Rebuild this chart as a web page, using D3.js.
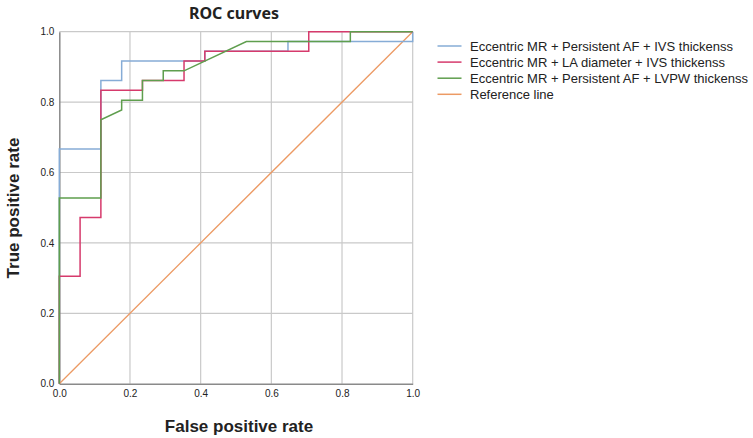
<!DOCTYPE html>
<html><head><meta charset="utf-8">
<script src="https://cdn.jsdelivr.net/npm/d3@7/dist/d3.min.js"></script>
<style>body{margin:0;background:#fff}svg{display:block}</style>
</head><body><svg id="c" width="753" height="438"></svg>
<script>
const seriesNames = ["Eccentric MR + Persistent AF + IVS thickenss","Eccentric MR + LA diameter + IVS thickenss","Eccentric MR + Persistent AF + LVPW thickenss","Reference line"];
const seriesColors = ["#86acd6","#d63a6c","#5f9e4e","#ec9a64"];
// FPR in 17ths, TPR in 36ths
const blueFpr = [0,0,2,2,3,3,7,7,11,11,17,17];
const blueTpr = [0,24,24,31,31,33,33,34,34,35,35,36];
const redFpr = [0,0,1,1,2,2,4,4,6,6,7,7,12,12,17];
const redTpr = [0,11,11,17,17,30,30,31,31,33,33,34,34,36,36];
const greenFpr = [0,0,2,2,3,3,4,4,5,5,6,9,14,14,17];
const greenTpr = [0,19,19,27,28,29,29,31,31,32,32,35,35,36,36];
const refFpr = [0,1];
const refTpr = [0,1];
const ticks = [0,0.2,0.4,0.6,0.8,1.0];

const svg = d3.select("#c");
const x = d3.scaleLinear().domain([0,1]).range([59.3,412.7]);
const y = d3.scaleLinear().domain([0,1]).range([383.7,31.7]);

// grid
svg.append("g").selectAll("line").data(ticks.slice(1)).join("line")
  .attr("x1",d=>x(d)).attr("x2",d=>x(d)).attr("y1",y(0)).attr("y2",y(1))
  .attr("stroke","#c9c9c9").attr("stroke-width",1.2);
svg.append("g").selectAll("line").data(ticks.slice(1)).join("line")
  .attr("y1",d=>y(d)).attr("y2",d=>y(d)).attr("x1",x(0)).attr("x2",x(1))
  .attr("stroke","#c9c9c9").attr("stroke-width",1.2);

// axes
const xa = svg.append("g").attr("transform",`translate(0,${y(0)})`)
  .call(d3.axisBottom(x).tickValues(ticks).tickFormat(d3.format(".1f")).tickSize(0).tickPadding(6));
const ya = svg.append("g").attr("transform",`translate(${x(0)},0)`)
  .call(d3.axisLeft(y).tickValues(ticks).tickFormat(d3.format(".1f")).tickSize(0).tickPadding(5));
[xa,ya].forEach(a=>{
  a.select(".domain").attr("stroke","#8a8a8a").attr("stroke-width",1.5);
  a.selectAll("text").attr("font-family","Liberation Sans, Arial, sans-serif").attr("font-size",10).attr("fill","#222");
});

const line = d3.line().x(d=>x(d[0])).y(d=>y(d[1]));
const mk = (f,t,nf,nt)=>f.map((v,i)=>[v/nf,t[i]/nt]);
const blue = mk(blueFpr,blueTpr,17,36);
const red = mk(redFpr,redTpr,17,36);
const green = mk(greenFpr,greenTpr,17,36);
const ref = mk(refFpr,refTpr,1,1);
[[ref,3,1.3],[blue,0,1.5],[red,1,1.5],[green,2,1.5]].forEach(([d,c,w])=>{
  svg.append("path").datum(d).attr("d",line).attr("fill","none").attr("stroke",seriesColors[c]).attr("stroke-width",w);
});

// title & labels
svg.append("text").attr("x",234).attr("y",19).attr("text-anchor","middle")
  .attr("font-family","Noto Sans, sans-serif").attr("font-weight","bold").attr("font-size",16).attr("fill","#222").text("ROC curves");
svg.append("text").attr("x",239).attr("y",432).attr("text-anchor","middle")
  .attr("font-family","Liberation Sans, Arial, sans-serif").attr("font-weight","bold").attr("font-size",17).attr("fill","#222").text("False positive rate");
svg.append("text").attr("transform","translate(19,208) rotate(-90)").attr("text-anchor","middle")
  .attr("font-family","Liberation Sans, Arial, sans-serif").attr("font-weight","bold").attr("font-size",17).attr("fill","#222").text("True positive rate");

// legend
const lg = svg.append("g");
seriesNames.forEach((n,i)=>{
  const yy = 46 + i*16.1;
  lg.append("line").attr("x1",437.5).attr("x2",461.5).attr("y1",yy).attr("y2",yy).attr("stroke",seriesColors[i]).attr("stroke-width",1.5);
  lg.append("text").attr("x",470).attr("y",yy+4.6).attr("font-family","Liberation Sans, Arial, sans-serif").attr("font-size",13).attr("fill","#222").text(n);
});
</script></body></html>
